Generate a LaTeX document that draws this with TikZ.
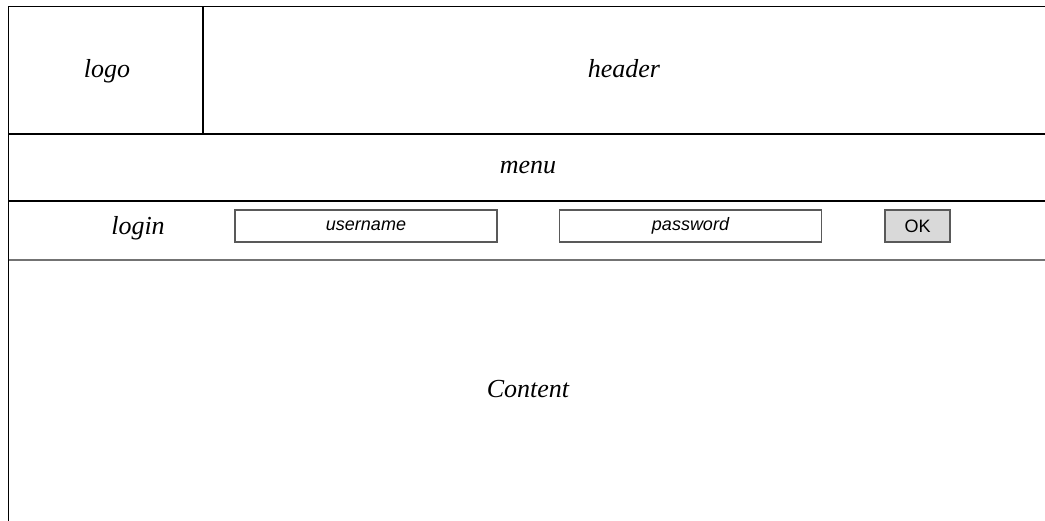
\documentclass[tikz,border=0pt]{standalone}
\usepackage{fontspec}
\setmainfont{Liberation Serif}
\setsansfont{Liberation Sans}
\usetikzlibrary{positioning}

\begin{document}
\begin{tikzpicture}[x=1pt,y=-1pt,line width=1.5pt,
  label/.style={font=\fontsize{26}{30}\selectfont\itshape,anchor=base},
  field/.style={draw=black!65,line width=1.2pt,minimum width=262pt,minimum height=32pt,
    inner sep=0pt,font=\fontsize{18}{21}\selectfont\sffamily\itshape},
  button/.style={field,fill=black!15,minimum width=65pt,font=\fontsize{18}{21}\selectfont\sffamily}]
\useasboundingbox (0,0) rectangle (1045,521);
% frame
\coordinate (tl) at (8.5,6.5);
\coordinate (tr) at (1045,6.5);
\coordinate (bl) at (8.5,521);
\draw (bl) -- (tl) -- (tr);
\draw (203,6.5) -- (203,134);
\draw (8.5,134) -- (1045,134);
\draw (8.5,201) -- (1045,201);
\draw[black!55,line width=1.8pt] (8.5,260) -- (1045,260);

\node[label] (logo) at (107,78) {logo};
\node[label] (header) at (624,78) {header};
\node[label] (menu) at (528,174) {menu};
\node[label] (login) at (138,235) {login};
\node[label] (content) at (528,398) {Content};

%% login row
\node[field] (user) at (366,226) {username};
\node[field] (pass) at (690.5,226) {password};
\node[button] (ok) at (917.5,226) {OK};
\end{tikzpicture}
\end{document}
